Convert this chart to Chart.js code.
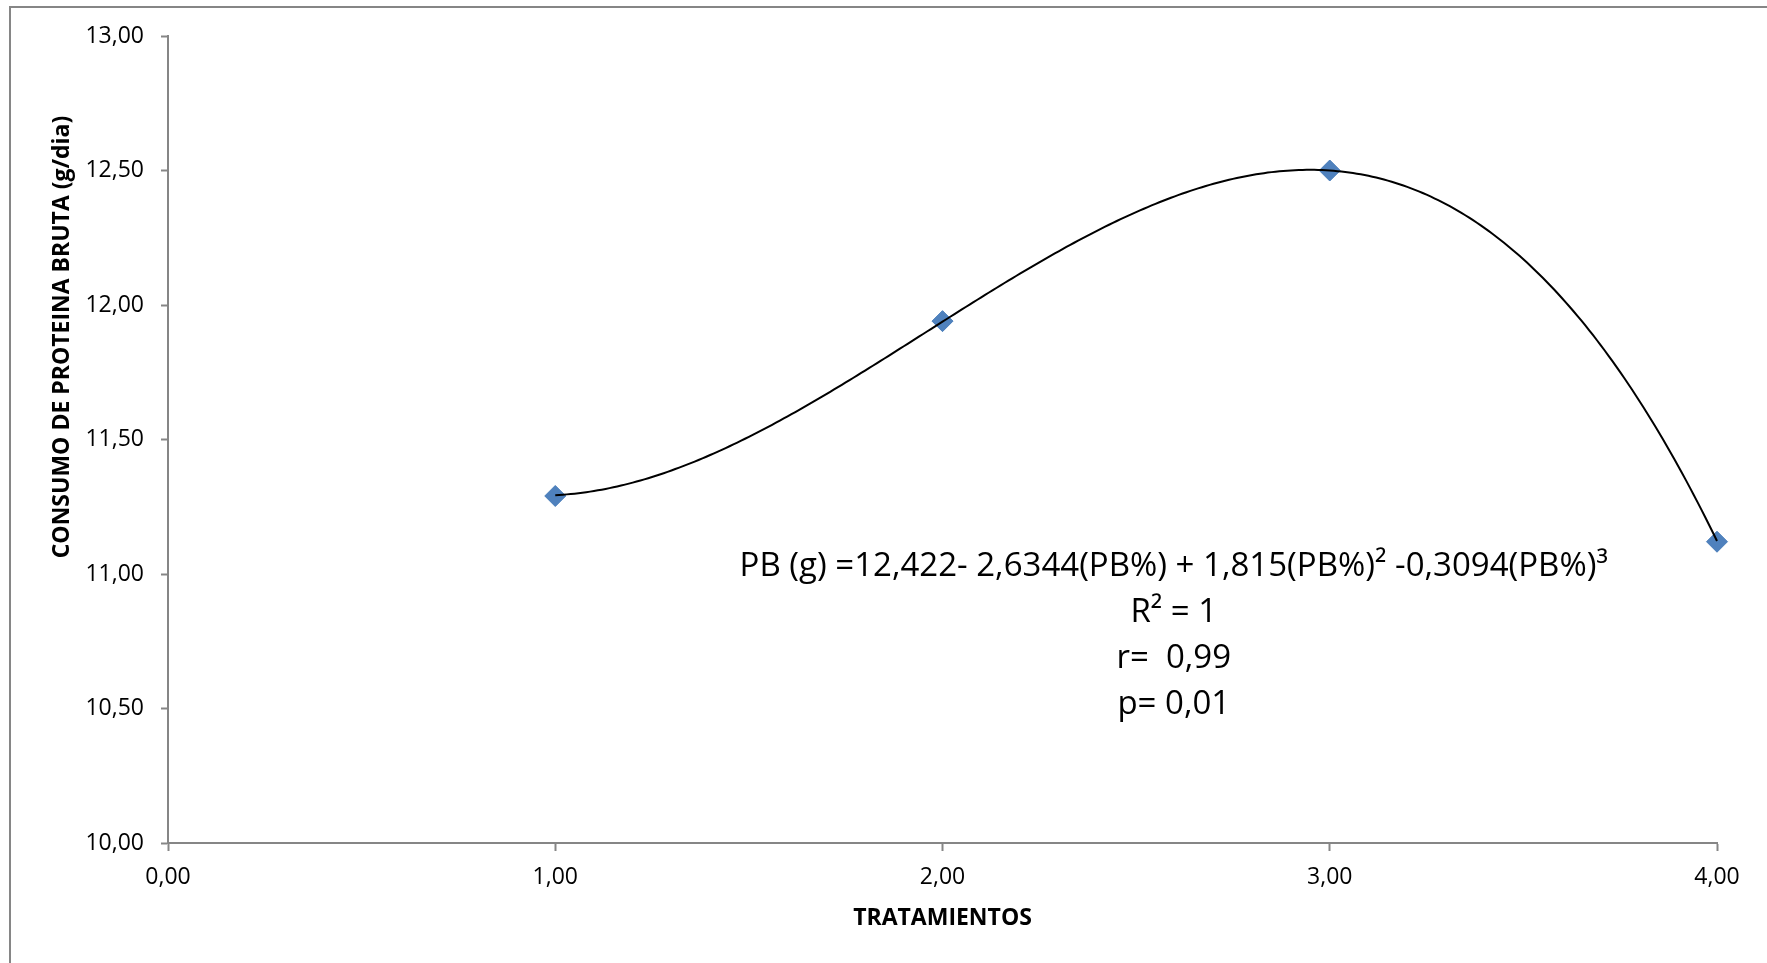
<!DOCTYPE html>
<html>
<head>
<meta charset="utf-8">
<script src="https://cdn.jsdelivr.net/npm/chart.js@4/dist/chart.umd.min.js"></script>
<style>
  html, body { margin: 0; padding: 0; background: #ffffff; }
  #wrap { width: 1767px; height: 963px; }
  canvas { display: block; }
</style>
</head>
<body>
<div id="wrap"><canvas id="c" width="1767" height="963"></canvas></div>
<script>
// ---- data ----
const treatments = [1, 2, 3, 4];
const proteinIntake = [11.29, 11.94, 12.50, 11.12];
// cubic trendline coefficients shown on the chart (c0 + c1*x + c2*x^2 + c3*x^3)
const trendCoefficients = [12.422, -2.6344, 1.815, -0.3094];
const xTickLabels = ['0,00', '1,00', '2,00', '3,00', '4,00'];
const yTickLabels = ['10,00', '10,50', '11,00', '11,50', '12,00', '12,50', '13,00'];
const xTitle = 'TRATAMIENTOS';
const yTitle = 'CONSUMO DE PROTEINA BRUTA (g/dia)';
const equationLines = [
  'PB (g) =12,422- 2,6344(PB%) + 1,815(PB%)\u00B2 -0,3094(PB%)\u00B3',
  'R\u00B2 = 1',
  'r=  0,99',
  'p= 0,01'
];

const FONT = "'Open Sans', 'Liberation Sans', sans-serif";
const AXIS_GREY = '#868686';

const decorPlugin = {
  id: 'decor',
  beforeDraw(chart) {
    const ctx = chart.ctx;
    ctx.save();
    ctx.fillStyle = '#ffffff';
    ctx.fillRect(0, 0, chart.width, chart.height);
    // outer chart frame (right/bottom edges lie outside the picture)
    ctx.strokeStyle = AXIS_GREY;
    ctx.lineWidth = 2;
    ctx.strokeRect(10, 7, chart.width + 20, chart.height + 20);
    ctx.restore();
  },
  afterDatasetsDraw(chart) {
    const ctx = chart.ctx;
    const xs = chart.scales.x, ys = chart.scales.y;
    // polynomial trendline over the data range
    const x0 = treatments[0], x1 = treatments[treatments.length - 1];
    const steps = 300;
    ctx.save();
    ctx.beginPath();
    for (let i = 0; i <= steps; i++) {
      const xv = x0 + (x1 - x0) * i / steps;
      let yv = 0;
      for (let k = 0; k < trendCoefficients.length; k++) yv += trendCoefficients[k] * Math.pow(xv, k);
      const px = xs.getPixelForValue(xv), py = ys.getPixelForValue(yv);
      if (i === 0) ctx.moveTo(px, py); else ctx.lineTo(px, py);
    }
    ctx.strokeStyle = '#000000';
    ctx.lineWidth = 2;
    ctx.stroke();
    ctx.restore();
  },
  afterDraw(chart) {
    const ctx = chart.ctx;
    const area = chart.chartArea;
    ctx.save();
    // y axis title
    ctx.translate(69, 337);
    ctx.rotate(-Math.PI / 2);
    ctx.font = "bold 23px " + FONT;
    ctx.fillStyle = '#000000';
    ctx.textAlign = 'center';
    ctx.textBaseline = 'alphabetic';
    ctx.fillText(yTitle, 0, 0);
    ctx.restore();

    // equation block
    ctx.save();
    ctx.fillStyle = '#000000';
    ctx.textAlign = 'center';
    ctx.textBaseline = 'alphabetic';
    ctx.font = "33px " + FONT;
    const cx = area.left + (area.right - area.left) * 0.6493;
    const by = area.top + 540;
    equationLines.forEach((t, i) => ctx.fillText(t, cx, by + i * 46));
    ctx.restore();
  }
};

new Chart(document.getElementById('c'), {
  type: 'scatter',
  data: {
    datasets: [{
      data: treatments.map((t, i) => ({ x: t, y: proteinIntake[i] })),
      pointStyle: 'rectRot',
      pointRadius: 10.5,
      backgroundColor: '#4F81BD',
      borderColor: '#4A7EBB',
      borderWidth: 1,
      showLine: false,
      clip: false
    }]
  },
  options: {
    responsive: false,
    animation: false,
    devicePixelRatio: 1,
    layout: { padding: { left: 0, right: 50, top: 36, bottom: 0 } },
    plugins: { legend: { display: false }, tooltip: { enabled: false } },
    scales: {
      x: {
        type: 'linear', min: 0, max: 4,
        ticks: {
          stepSize: 1, autoSkip: false, maxRotation: 0,
          callback: (v, i) => xTickLabels[i],
          font: { family: FONT, size: 23 }, color: '#000000', padding: 13
        },
        grid: { drawOnChartArea: false, drawTicks: true, tickLength: 8, tickColor: AXIS_GREY, tickWidth: 2 },
        border: { color: AXIS_GREY, width: 2 },
        title: {
          display: true, text: xTitle, color: '#000000',
          font: { family: FONT, size: 23, weight: 'bold' },
          padding: { top: 0, bottom: 31 }
        },
        afterFit: s => { s.height = 120; }
      },
      y: {
        type: 'linear', min: 10, max: 13,
        ticks: {
          stepSize: 0.5,
          callback: (v, i) => yTickLabels[i],
          font: { family: FONT, size: 23 }, color: '#000000', padding: 17
        },
        grid: { drawOnChartArea: false, drawTicks: true, tickLength: 7, tickColor: AXIS_GREY, tickWidth: 2 },
        border: { color: AXIS_GREY, width: 2 },
        title: { display: false },
        afterFit: s => { s.width = 168; }
      }
    }
  },
  plugins: [decorPlugin]
});
</script>
</body>
</html>
